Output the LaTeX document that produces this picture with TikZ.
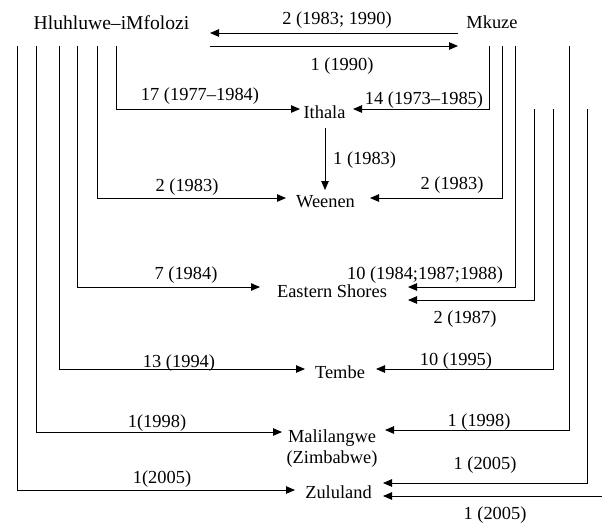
\documentclass[tikz,border=0pt]{standalone}
\usepackage{fontspec}
\setmainfont{Liberation Serif}
\usetikzlibrary{arrows.meta}
\begin{document}
\begin{tikzpicture}[x=1pt,y=-1pt,
  txt/.style={anchor=base,inner sep=0pt,font=\fontsize{18.4}{21}\selectfont},
  place/.style={txt},
  lbl/.style={txt},
  link/.style={line width=0.9pt,line join=miter},
  arr/.style={link,-{Triangle[length=9pt,width=7.5pt]}}]
\useasboundingbox (0,0) rectangle (602,523);

% places
\node[place,font=\fontsize{19.6}{21}\selectfont] (hip) at (111.5,29) {Hluhluwe–iMfolozi};
\node[place] (mk)  at (492,28) {Mkuze};
\node[place] (ith) at (324.5,118) {Ithala};
\node[place] (wee) at (325.5,207) {Weenen};
\node[place] (es)  at (332,297) {Eastern Shores};
\node[place] (tem) at (340,378) {Tembe};
\node[place,align=center] (mal) at (332,463) {Malilangwe\\(Zimbabwe)};
\node[place] (zul) at (338.5,498) {Zululand};

% start points on the source columns
\coordinate (h1) at (17,46);
\coordinate (h2) at (36,46);
\coordinate (h3) at (59,46);
\coordinate (h4) at (77,46);
\coordinate (h5) at (97,46);
\coordinate (h6) at (116,46);
\coordinate (m1) at (489,46);
\coordinate (m2) at (502,46);
\coordinate (m3) at (515,46);
\coordinate (m4) at (534,109);
\coordinate (m5) at (553,109);
\coordinate (m6) at (569,46);
\coordinate (m7) at (587,109);
\coordinate (m8) at (603,496);

% arrow tips next to the destinations
\coordinate (hipA) at (210,33);
\coordinate (hipB) at (210,46);
\coordinate (mkA) at (458,33);
\coordinate (mkB) at (458,46);
\coordinate (ithL) at (300,109);
\coordinate (ithR) at (353,109);
\coordinate (ithD) at (325,128);
\coordinate (weeT) at (325,190);
\coordinate (weeL) at (286,198);
\coordinate (weeR) at (370,198);
\coordinate (esL) at (260,287);
\coordinate (esR1) at (408,287);
\coordinate (esR2) at (408,300);
\coordinate (temL) at (305,369);
\coordinate (temR) at (376,369);
\coordinate (malL) at (282,432);
\coordinate (malR) at (385,430);
\coordinate (zulL) at (295,490);
\coordinate (zulR1) at (383,483);
\coordinate (zulR2) at (383,496);

% connectors
\draw[arr] (mkA) -- (hipA);
\draw[arr] (hipB) -- (mkB);
\draw[arr] (h6) |- (ithL);
\draw[arr] (m1) |- (ithR);
\draw[arr] (ithD) -- (weeT);
\draw[arr] (h5) |- (weeL);
\draw[arr] (m2) |- (weeR);
\draw[arr] (h4) |- (esL);
\draw[arr] (m3) |- (esR1);
\draw[arr] (m4) |- (esR2);
\draw[arr] (h3) |- (temL);
\draw[arr] (m5) |- (temR);
\draw[arr] (h2) |- (malL);
\draw[arr] (m6) |- (malR);
\draw[arr] (h1) |- (zulL);
\draw[arr] (m7) |- (zulR1);
\draw[arr] (m8) -- (zulR2);

% labels
\node[lbl] (l1) at (337,24) {2 (1983; 1990)};
\node[lbl] (l2) at (342,70) {1 (1990)};
\node[lbl] (l3) at (200,100) {17 (1977–1984)};
\node[lbl] (l4) at (424,104) {14 (1973–1985)};
\node[lbl,anchor=base west] (l5) at (333,164) {1 (1983)};
\node[lbl] (l6) at (187,191) {2 (1983)};
\node[lbl] (l7) at (452,189) {2 (1983)};
\node[lbl] (l8) at (186,279) {7 (1984)};
\node[lbl] (l9) at (425,279) {10 (1984;1987;1988)};
\node[lbl] (l10) at (465,323) {2 (1987)};
\node[lbl] (l11) at (179,367) {13 (1994)};
\node[lbl] (l12) at (456,365) {10 (1995)};
\node[lbl] (l13) at (157,427) {1(1998)};
\node[lbl] (l14) at (479,426) {1 (1998)};
\node[lbl] (l15) at (162,483) {1(2005)};
\node[lbl] (l16) at (485,469) {1 (2005)};
\node[lbl] (l17) at (495,519) {1 (2005)};
\end{tikzpicture}
\end{document}
